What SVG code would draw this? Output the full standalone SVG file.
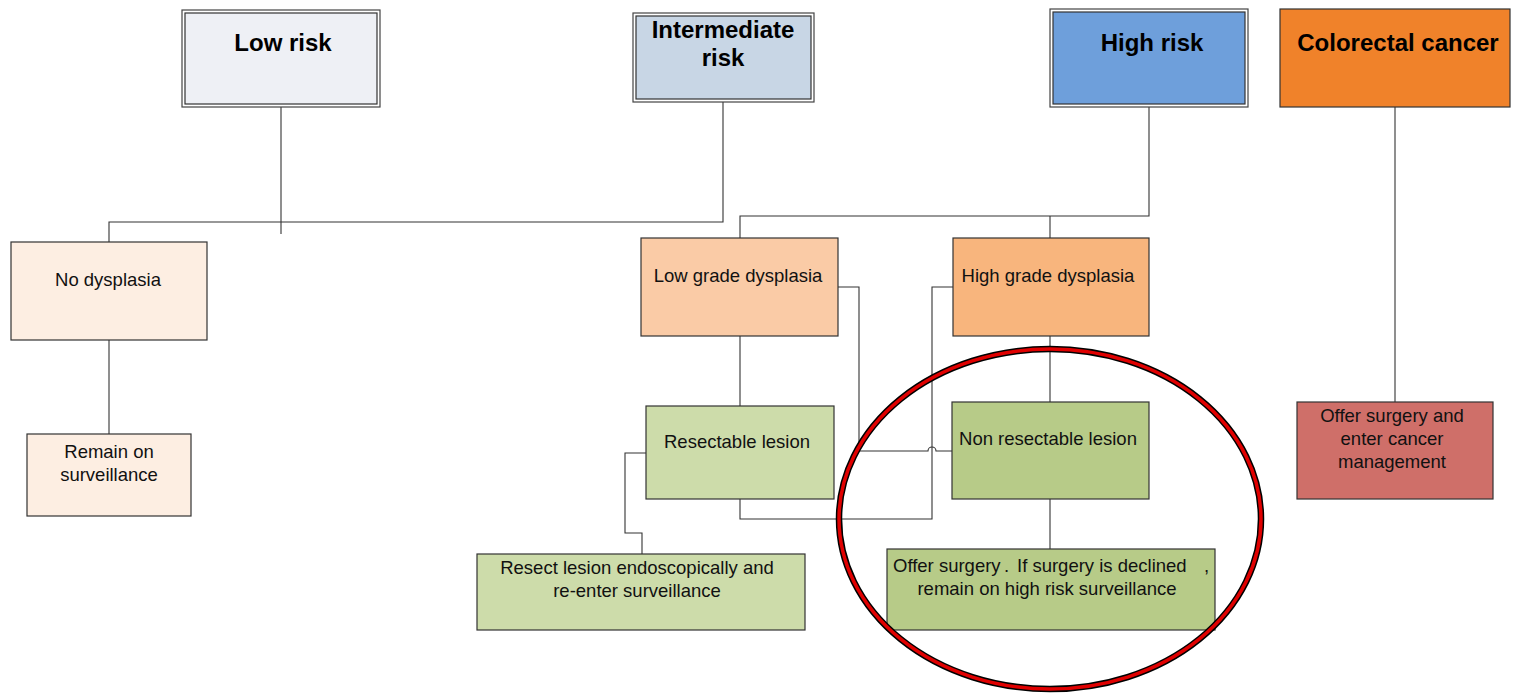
<svg xmlns="http://www.w3.org/2000/svg" width="1516" height="693" viewBox="0 0 1516 693">
  <style>
    .title { font-family: "Liberation Sans", Arial, sans-serif; font-size: 24px; font-weight: bold; fill: #000; text-anchor: middle; }
    .lbl { font-family: "Liberation Sans", Arial, sans-serif; font-size: 18.5px; fill: #111; text-anchor: middle; }
    .box { stroke: #333; stroke-width: 1.2; }
    .outer { fill: none; stroke: #444; stroke-width: 1.2; }
    .conn { fill: none; stroke: #333; stroke-width: 1.1; }
  </style>
  <rect width="1516" height="693" fill="#ffffff"/>

  <!-- connectors -->
  <g id="connectors" class="conn">
    <path d="M281,107 V234"/>
    <path d="M723,102 V222 H109 V242"/>
    <path d="M109,340 V434"/>
    <path d="M1149,107 V216 H740 V238"/>
    <path d="M1050,216 V238"/>
    <path d="M1395,107 V402"/>
    <path d="M740,336 V406"/>
    <path d="M838,287 H859 V451 H928 A4,4 0 0 1 936,451 H953"/>
    <path d="M953,287 H932 V519 H740 V499"/>
    <path d="M1050,336 V402"/>
    <path d="M1050,499 V549"/>
    <path d="M646,453 H625 V533 H642 V554"/>
  </g>

  <!-- risk categories -->
  <g id="low-risk">
    <rect x="182" y="10" width="198" height="97" class="outer"/>
    <rect x="185" y="13" width="192" height="91" fill="#EEF0F5" class="box"/>
    <text x="283" y="51" class="title">Low risk</text>
  </g>
  <g id="intermediate-risk">
    <rect x="633" y="13" width="181" height="89" class="outer"/>
    <rect x="636" y="16" width="175" height="83" fill="#C8D6E5" class="box"/>
    <text x="723" y="38" class="title">Intermediate</text>
    <text x="723" y="66" class="title">risk</text>
  </g>
  <g id="high-risk">
    <rect x="1050" y="9" width="198" height="98" class="outer"/>
    <rect x="1053" y="12" width="192" height="92" fill="#6E9FDB" class="box"/>
    <text x="1152" y="51" class="title">High risk</text>
  </g>
  <g id="colorectal-cancer">
    <rect x="1280" y="9" width="230" height="98" fill="#F0822A" class="box"/>
    <text x="1398" y="51" class="title">Colorectal cancer</text>
  </g>

  <!-- findings -->
  <g id="no-dysplasia">
    <rect x="11" y="242" width="196" height="98" fill="#FDEEE2" class="box"/>
    <text x="108" y="286" class="lbl">No dysplasia</text>
  </g>
  <g id="remain-surveillance">
    <rect x="27" y="434" width="164" height="82" fill="#FDEEE2" class="box"/>
    <text x="109" y="458" class="lbl">Remain on</text>
    <text x="109" y="481" class="lbl">surveillance</text>
  </g>
  <g id="low-grade">
    <rect x="641" y="238" width="197" height="98" fill="#FACBA6" class="box"/>
    <text x="738" y="282" class="lbl">Low grade dysplasia</text>
  </g>
  <g id="high-grade">
    <rect x="953" y="238" width="196" height="98" fill="#F8B57D" class="box"/>
    <text x="1048" y="282" class="lbl">High grade dysplasia</text>
  </g>
  <g id="resectable">
    <rect x="646" y="406" width="188" height="93" fill="#CDDCAA" class="box"/>
    <text x="737" y="448" class="lbl">Resectable lesion</text>
  </g>
  <g id="non-resectable">
    <rect x="952" y="402" width="197" height="97" fill="#B7CB88" class="box"/>
    <text x="1048" y="445" class="lbl">Non resectable lesion</text>
  </g>
  <g id="resect-endoscopically">
    <rect x="477" y="554" width="328" height="76" fill="#CDDCAA" class="box"/>
    <text x="637" y="574" class="lbl">Resect lesion endoscopically and</text>
    <text x="637" y="597" class="lbl">re-enter surveillance</text>
  </g>
  <g id="offer-surgery">
    <rect x="887" y="549" width="328" height="81" fill="#B7CB88" class="box"/>
    <text y="572" class="lbl" style="text-anchor:start"><tspan x="893">Offer surgery</tspan><tspan x="1004">.</tspan><tspan x="1017">If surgery is declined</tspan><tspan x="1204">,</tspan></text>
    <text x="1047" y="595" class="lbl">remain on high risk surveillance</text>
  </g>
  <g id="cancer-management">
    <rect x="1297" y="402" width="196" height="97" fill="#CF6F69" class="box"/>
    <text x="1392" y="422" class="lbl">Offer surgery and</text>
    <text x="1392" y="445" class="lbl">enter cancer</text>
    <text x="1392" y="468" class="lbl">management</text>
  </g>

  <!-- highlight ring -->
  <g id="highlight">
    <ellipse cx="1050" cy="519" rx="211" ry="170" fill="none" stroke="#000" stroke-width="6.5"/>
    <ellipse cx="1050" cy="519" rx="211" ry="170" fill="none" stroke="#E00000" stroke-width="3.5"/>
  </g>
</svg>
